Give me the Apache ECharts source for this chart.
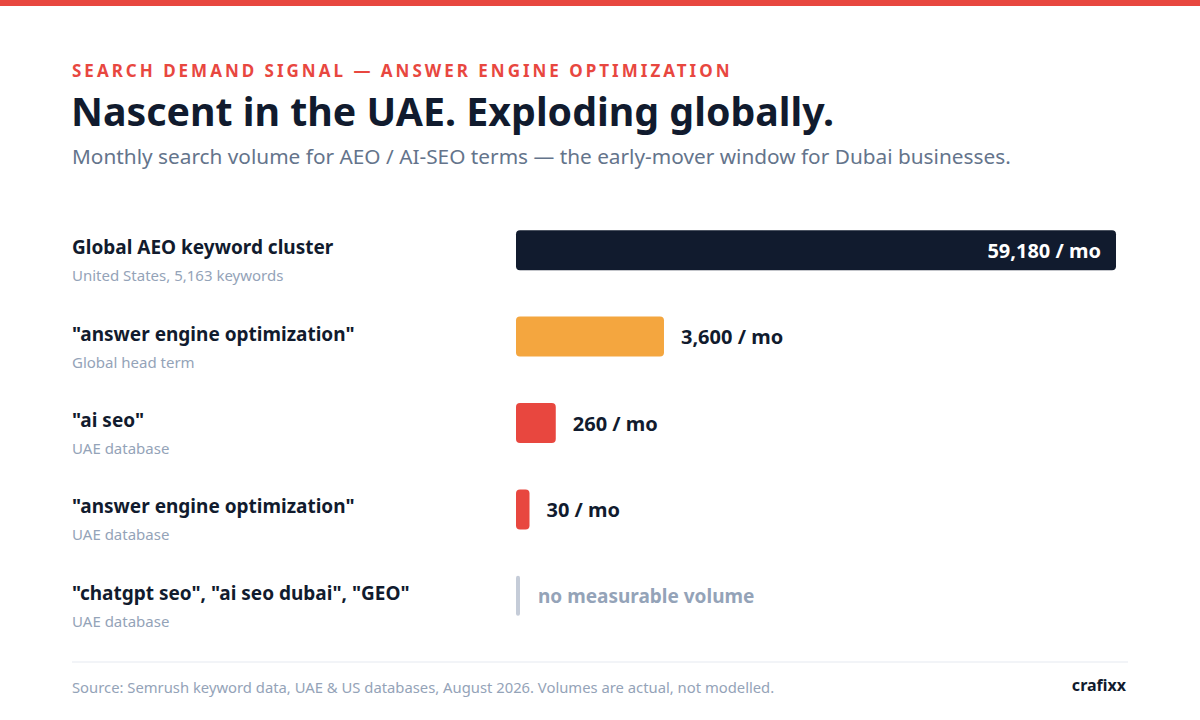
<!DOCTYPE html>
<html>
<head>
<meta charset="utf-8">
<title>Nascent in the UAE. Exploding globally.</title>
<script src="https://cdn.jsdelivr.net/npm/echarts@6/dist/echarts.min.js"></script>
<style>
  html, body { margin: 0; padding: 0; background: #ffffff; }
  #chart { width: 1200px; height: 720px; }
</style>
</head>
<body>
<div id="chart"></div>
<script>
// search terms, their source notes and monthly volumes
var terms = [
  'Global AEO keyword cluster',
  '"answer engine optimization"',
  '"ai seo"',
  '"answer engine optimization"',
  '"chatgpt seo", "ai seo dubai", "GEO"'
];
var notes = [
  'United States, 5,163 keywords',
  'Global head term',
  'UAE database',
  'UAE database',
  'UAE database'
];
var volumes = [59180, 3600, 260, 30, 0];
var emptyLabel = 'no measurable volume';

var kicker = 'SEARCH DEMAND SIGNAL — ANSWER ENGINE OPTIMIZATION';
var barColors = ['#111b2e', '#f4a63f', '#e8473f', '#e8473f', '#c5ccd8'];
var FONT = '"Noto Sans", "Open Sans", sans-serif';

// svg renderer so the kicker can get letter spacing
var chart = echarts.init(document.getElementById('chart'), null, { renderer: 'svg' });

// bar length follows square root of volume so small terms stay visible
var seriesData = volumes.map(function (v, i) {
  var item = {
    value: Math.sqrt(v),
    itemStyle: { color: barColors[i] },
    label: {}
  };
  if (i === 0) {
    item.label = { position: 'insideRight', distance: 15, color: '#ffffff' };
  } else if (v === 0) {
    item.label = { color: '#94a3b8', distance: 18, fontSize: 19 };
  }
  return item;
});

var option = {
  backgroundColor: '#ffffff',
  animation: false,
  textStyle: { fontFamily: FONT },
  title: [
    {
      text: kicker,
      left: 72, top: 62, padding: 0,
      textStyle: { fontFamily: FONT, fontSize: 17, fontWeight: 'bold', color: '#e8473f' }
    },
    {
      text: 'Nascent in the UAE. Exploding globally.',
      left: 71, top: 91, padding: 0,
      textStyle: { fontFamily: FONT, fontSize: 39.3, fontWeight: 'bold', color: '#111b2e' }
    },
    {
      text: 'Monthly search volume for AEO / AI-SEO terms — the early-mover window for Dubai businesses.',
      left: 72, top: 145, padding: 0,
      textStyle: { fontFamily: FONT, fontSize: 20.8, fontWeight: 'normal', color: '#64748b' }
    },
    {
      text: 'Source: Semrush keyword data, UAE & US databases, August 2026. Volumes are actual, not modelled.',
      left: 72, top: 679, padding: 0,
      textStyle: { fontFamily: FONT, fontSize: 14.8, fontWeight: 'normal', color: '#94a3b8' }
    },
    {
      text: 'crafixx',
      right: 74, top: 677, padding: 0,
      textStyle: { fontFamily: FONT, fontSize: 16, fontWeight: 'bold', color: '#111b2e' }
    }
  ],
  graphic: [
    { type: 'rect', left: 0, top: 0, shape: { width: 1200, height: 6 }, style: { fill: '#e8473f' } },
    { type: 'line', shape: { x1: 72, y1: 662, x2: 1128, y2: 662 }, style: { stroke: '#e5e9f0', lineWidth: 1 } }
  ],
  grid: { left: 516, right: 84, top: 207, bottom: 81, containLabel: false },
  xAxis: {
    type: 'value',
    min: 0,
    max: Math.sqrt(volumes[0]),
    show: false
  },
  yAxis: {
    type: 'category',
    inverse: true,
    data: terms,
    axisLine: { show: false },
    axisTick: { show: false },
    splitLine: { show: false },
    axisLabel: {
      align: 'left',
      margin: 444,
      padding: [22, 0, 0, 0],
      formatter: function (val, idx) {
        return '{name|' + val + '}\n{note|' + notes[idx] + '}';
      },
      rich: {
        name: { fontFamily: FONT, fontSize: 19, fontWeight: 'bold', color: '#111b2e', lineHeight: 28 },
        note: { fontFamily: FONT, fontSize: 15, color: '#94a3b8', lineHeight: 28 }
      }
    }
  },
  series: [{
    type: 'bar',
    data: seriesData,
    barWidth: 40,
    barMinHeight: 4,
    itemStyle: { borderRadius: 4 },
    label: {
      show: true,
      position: 'right',
      distance: 17,
      fontFamily: FONT,
      fontSize: 20,
      fontWeight: 'bold',
      color: '#111b2e',
      formatter: function (p) {
        var v = volumes[p.dataIndex];
        return v === 0 ? emptyLabel : v.toLocaleString('en-US') + ' / mo';
      }
    }
  }]
};

chart.setOption(option);

function spaceKicker() {
  var nodes = document.querySelectorAll('#chart text');
  for (var i = 0; i < nodes.length; i++) {
    if (nodes[i].textContent === kicker) {
      nodes[i].setAttribute('letter-spacing', '3');
    }
  }
}
spaceKicker();
chart.on('finished', spaceKicker);
</script>
</body>
</html>
